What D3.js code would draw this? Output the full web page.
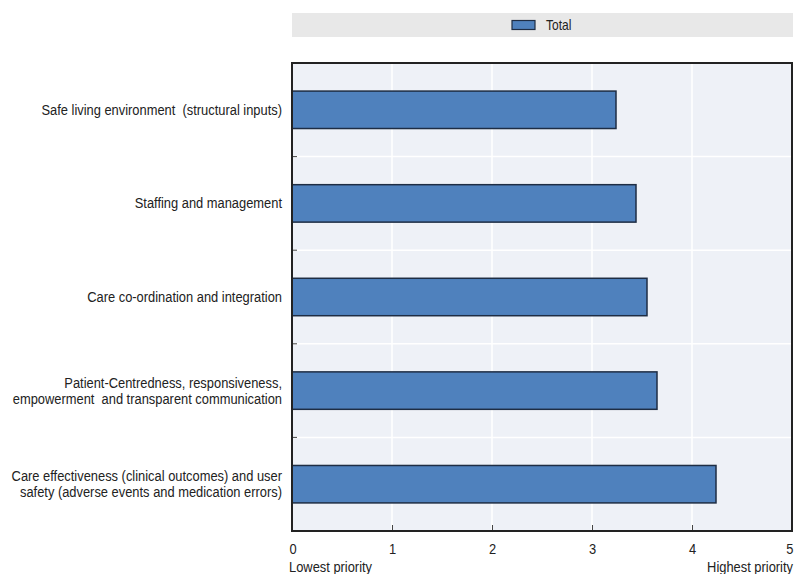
<!DOCTYPE html>
<html><head><meta charset="utf-8">
<script src="https://cdn.jsdelivr.net/npm/d3@7"></script>
<style>
body{margin:0;background:#fff;}
text{font-family:"Liberation Sans",Arial,sans-serif;fill:#222;white-space:pre;}
</style></head>
<body><svg id="c" width="795" height="574"></svg>
<script>
const categories = [
  ["Safe living environment  (structural inputs)"],
  ["Staffing and management"],
  ["Care co-ordination and integration"],
  ["Patient-Centredness, responsiveness,", "empowerment  and transparent communication"],
  ["Care effectiveness (clinical outcomes) and user", "safety (adverse events and medication errors)"]
];
const values = [3.24, 3.44, 3.55, 3.65, 4.24];
const seriesName = "Total";
const xTicks = [0, 1, 2, 3, 4, 5];
const xEndLabels = ["Lowest priority", "Highest priority"];

const SX = 0.86; // condensed look
const FS = 15;
const svg = d3.select("#c");
const m = {left: 292, right: 792, top: 63, bottom: 531};
const x = d3.scaleLinear().domain([0, 5]).range([m.left, m.right]);
const idx = d3.range(categories.length);
const y = d3.scaleBand().domain(idx).range([m.top, m.bottom]).paddingInner(0.6).paddingOuter(0.3);

function label(px, py, str, anchor, size) {
  return svg.append("text").attr("transform", `translate(${px},${py}) scale(${SX},1)`)
    .attr("text-anchor", anchor || "start").attr("font-size", size || FS).text(str);
}

// legend
svg.append("rect").attr("x", 292).attr("y", 13).attr("width", 501).attr("height", 24).attr("fill", "#e8e8e8");
svg.append("rect").attr("x", 512).attr("y", 20.5).attr("width", 23).attr("height", 9)
  .attr("fill", "#4f81bd").attr("stroke", "#1e2d44").attr("stroke-width", 1.2);
label(546, 30, seriesName, "start", 14);

// plot bg
svg.append("rect").attr("x", m.left).attr("y", m.top).attr("width", m.right - m.left).attr("height", m.bottom - m.top).attr("fill", "#eef1f7");

// gridlines
svg.append("g").selectAll("line").data(xTicks.slice(1, -1)).join("line")
  .attr("x1", d => x(d)).attr("x2", d => x(d)).attr("y1", m.top).attr("y2", m.bottom)
  .attr("stroke", "#ffffff").attr("stroke-width", 1.5);
const bounds = d3.range(1, categories.length).map(i => m.top + i * (m.bottom - m.top) / categories.length);
svg.append("g").selectAll("line").data(bounds).join("line")
  .attr("x1", m.left).attr("x2", m.right).attr("y1", d => d).attr("y2", d => d)
  .attr("stroke", "#ffffff").attr("stroke-width", 1.5);

// bars
svg.append("g").selectAll("rect").data(values).join("rect")
  .attr("x", x(0)).attr("y", (d, i) => y(i)).attr("width", d => x(d) - x(0)).attr("height", y.bandwidth())
  .attr("fill", "#4f81bd").attr("stroke", "#1e2d44").attr("stroke-width", 1.5);

// y ticks (inside)
svg.append("g").selectAll("line").data(bounds).join("line")
  .attr("x1", m.left).attr("x2", m.left + 5).attr("y1", d => d).attr("y2", d => d)
  .attr("stroke", "#444").attr("stroke-width", 1);

// x axis
const xAxis = d3.axisBottom(x).tickValues(xTicks).tickSize(-6).tickPadding(12).tickFormat(d3.format("d"));
const gx = svg.append("g").attr("transform", `translate(0,${m.bottom})`).call(xAxis);
gx.select(".domain").remove();
gx.selectAll("line").attr("stroke", "#444");
gx.selectAll(".tick").filter(d => d === 0 || d === 5).select("line").remove();
gx.selectAll(".tick text").each(function(d) {
  const t = d3.select(this);
  const anchor = d === 0 ? "start" : d === 5 ? "end" : "middle";
  const dx = d === 0 ? -3 : d === 5 ? 1 : 0;
  t.attr("x", null).attr("y", null).attr("dy", null)
    .attr("transform", `translate(${dx},23) scale(${SX},1)`)
    .attr("text-anchor", anchor).attr("font-size", FS).attr("fill", "#222")
    .style("font-family", '"Liberation Sans",Arial,sans-serif');
});

label(x(0) - 3, 572, xEndLabels[0], "start", FS);
label(x(5) + 1, 572, xEndLabels[1], "end", FS);

// border
svg.append("rect").attr("x", m.left).attr("y", m.top).attr("width", m.right - m.left).attr("height", m.bottom - m.top)
  .attr("fill", "none").attr("stroke", "#222").attr("stroke-width", 2);

// category labels
categories.forEach((lines, i) => {
  const cy = y(i) + y.bandwidth() / 2;
  lines.forEach((t, j) => {
    label(282, cy + (j - (lines.length - 1) / 2) * 16 + 5, t, "end", FS);
  });
});
</script></body></html>
